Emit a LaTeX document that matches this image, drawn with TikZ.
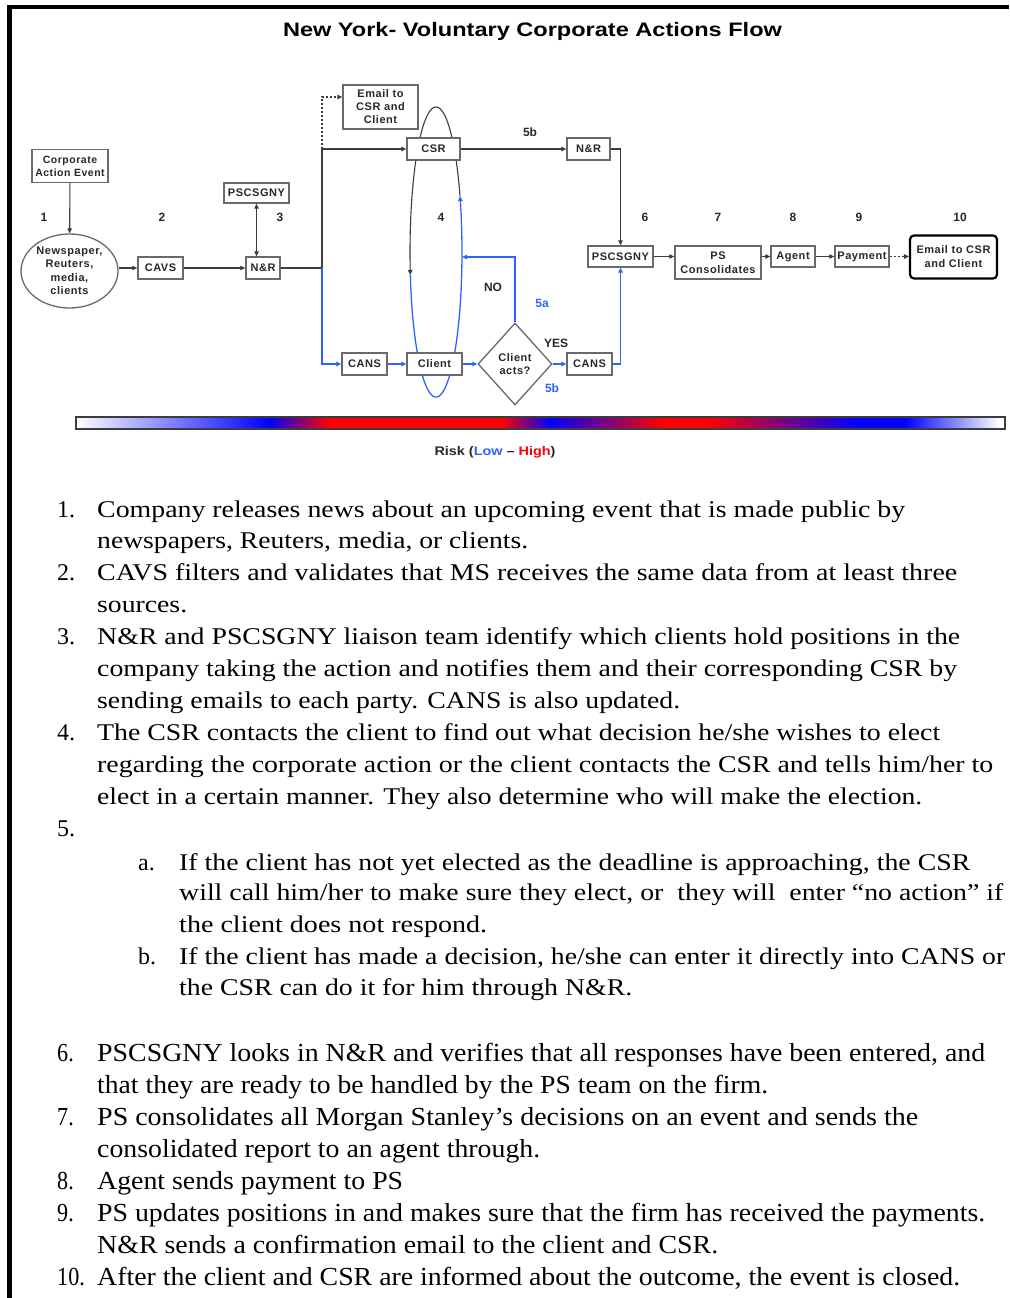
\documentclass[tikz,border=0pt]{standalone}
\usepackage{fontspec}
\usepackage{graphicx}
\setmainfont{Liberation Serif}
\newfontfamily\dfont{Liberation Sans}[LetterSpace=5]
\newfontfamily\hfont{Liberation Sans}
\usetikzlibrary{arrows.meta,shapes.geometric}
\definecolor{lblue}{RGB}{45,100,255}
\definecolor{dgray}{RGB}{60,60,60}
\definecolor{bgray}{RGB}{105,105,105}
\definecolor{tgray}{RGB}{40,40,40}
\newlength\fitlen
\newcommand\fitline[2]{\settowidth\fitlen{#2}\pgfmathsetmacro\fitscale{#1/\fitlen}\scalebox{\fitscale}[1]{#2}}
\pgfdeclarehorizontalshading{riskbar}{100bp}{color(0bp)=(white); color(25bp)=(white); color(35.4bp)=(blue); color(38.6bp)=(red); color(47.9bp)=(red); color(50.5bp)=(blue); color(56.6bp)=(red); color(59bp)=(red); color(67bp)=(blue); color(69.6bp)=(blue); color(74.7bp)=(white); color(100bp)=(white)}
\tikzset{
  box/.style={draw=bgray, line width=1.3pt, fill=white, text=tgray, inner sep=0pt, align=center,
    font=\dfont\bfseries\fontsize{11}{12.5}\selectfont},
  num/.style={text=tgray, inner sep=0pt, font=\hfont\bfseries\fontsize{12}{14}\selectfont},
  conn/.style={draw=dgray, line width=1.1pt, -{Triangle[length=5pt,width=4.5pt]}},
  bconn/.style={draw=lblue, line width=1.3pt, -{Triangle[length=5pt,width=4.5pt]}},
  ltxt/.style={anchor=base west, inner sep=0pt, font=\fontsize{24}{28}\selectfont},
  ltxtb/.style={anchor=base west, inner sep=0pt, font=\fontsize{26}{28}\selectfont},
}
\begin{document}
\begin{tikzpicture}[x=1pt,y=-1pt]
\path[use as bounding box, fill=white] (0,0) rectangle (1009,1298);
% page border
\draw[black, line width=4.5pt] (9.5,1298) -- (9.5,7) -- (1009,7);
% title
\node[font=\hfont\bfseries\fontsize{19.5}{22}\selectfont, inner sep=0pt] (title) at (532.5,31) {\fitline{499}{New York- Voluntary Corporate Actions Flow}};

% ellipse 4 (cycle between CSR and client)
\draw[dgray, line width=1.1pt, -{Triangle[length=5pt,width=4.5pt]}] plot[domain=-22.7:-189.13, samples=90] ({436+26*cos(\x)},{252+145*sin(\x)});
\draw[lblue, line width=1.3pt, -{Triangle[length=5pt,width=4.5pt]}] plot[domain=170.87:-22.7, samples=90] ({436+26*cos(\x)},{252+145*sin(\x)});

% nodes
\node[box, minimum width=76, minimum height=33, font=\dfont\bfseries\fontsize{10.5}{13}\selectfont] (corp) at (70,166) {Corporate\\Action Event};
\node[box, draw, shape=ellipse, minimum width=97, minimum height=74, font=\dfont\bfseries\fontsize{11}{13.5}\selectfont] (news) at (69.5,271) {Newspaper,\\Reuters,\\media,\\clients};
\node[box, minimum width=45, minimum height=22] (cavs) at (160.5,268) {CAVS};
\node[box, minimum width=34, minimum height=22] (nr1) at (263,268) {N\&R};
\node[box, minimum width=65, minimum height=20] (psc1) at (256.5,193) {PSCSGNY};
\node[box, minimum width=75, minimum height=44, font=\dfont\bfseries\fontsize{11}{13}\selectfont] (email1) at (380.5,107) {Email to\\CSR and\\Client};
\node[box, minimum width=53, minimum height=22] (csr) at (433.5,149) {CSR};
\node[box, minimum width=43, minimum height=22] (nr2) at (588.5,149) {N\&R};
\node[box, minimum width=65, minimum height=21] (psc2) at (620.5,256.5) {PSCSGNY};
\node[box, minimum width=86, minimum height=33, font=\dfont\bfseries\fontsize{11}{13.5}\selectfont] (pscons) at (718,262.5) {PS\\Consolidates};
\node[box, minimum width=44, minimum height=21] (agent) at (793,256.5) {Agent};
\node[box, minimum width=54, minimum height=21] (payment) at (862,256.5) {Payment};
\node[box, draw=black, line width=2.2pt, rounded corners=4pt, minimum width=87, minimum height=43, font=\dfont\bfseries\fontsize{11}{14}\selectfont] (email2) at (953.5,257) {Email to CSR\\and Client};
\node[box, minimum width=45, minimum height=22] (cans1) at (364.5,364) {CANS};
\node[box, minimum width=55, minimum height=22] (client) at (434.5,364) {Client};
\node[box, shape=diamond, minimum width=74, minimum height=82, font=\dfont\bfseries\fontsize{11}{13.5}\selectfont] (dia) at (515,364) {Client\\acts?};
\node[box, minimum width=45, minimum height=22] (cans2) at (589.5,364) {CANS};

% step numbers and labels
\node[num] (s1) at (44,217) {1};
\node[num] (s2) at (162,217) {2};
\node[num] (s3) at (280,217) {3};
\node[num] (s4) at (441,217) {4};
\node[num] (s6) at (645,217) {6};
\node[num] (s7) at (718,217) {7};
\node[num] (s8) at (793,217) {8};
\node[num] (s9) at (859,217) {9};
\node[num] (s10) at (960,217) {10};
\node[num] (l5b) at (530,132) {5b};
\node[num] (lno) at (493,287) {NO};
\node[num, text=lblue] (l5a) at (542,303) {5a};
\node[num] (lyes) at (556,343) {YES};
\node[num, text=lblue] (l5bb) at (552,388) {5b};

% junction coordinates
\coordinate (J) at (322,268);
\coordinate (J2) at (322,149);
\coordinate (D) at (322,97);
\coordinate (E4) at (462,257);

% connectors
\draw[conn] (corp) -- (news);
\draw[conn] (news.east |- cavs.west) -- (cavs.west);
\draw[conn] (cavs) -- (nr1);
\draw[conn, {Triangle[length=5pt,width=4.5pt]}-{Triangle[length=5pt,width=4.5pt]}] (psc1.south) -- (psc1.south |- nr1.north);
\draw[conn] (nr1.east) -- (J) -- (J2) -- (csr.west);
\draw[conn, dash pattern=on 2pt off 2pt] (J2) -- (D) -- (email1.west |- D);
\draw[bconn] (J) -- (J |- cans1.west) -- (cans1.west);
\draw[conn] (csr) -- (nr2);
\draw[conn] (nr2.east) -| (psc2.north);
\draw[bconn] (cans1) -- (client);
\draw[bconn] (client) -- (dia);
\draw[bconn] (dia) -- (cans2);
\draw[bconn] (cans2.east) -| (psc2.south);
\draw[bconn] (dia.north) |- (E4);
\draw[conn] (psc2.east) -- (psc2.east -| pscons.west);
\draw[conn] (pscons.east |- agent.west) -- (agent.west);
\draw[conn] (agent) -- (payment);
\draw[conn, dash pattern=on 2pt off 2pt] (payment.east) -- (payment.east -| email2.west);

% risk bar
\node[draw=dgray, line width=1.5pt, shade, shading=riskbar, minimum width=929, minimum height=12, inner sep=0pt] (bar) at (540.5,423) {};
\node[font=\hfont\bfseries\fontsize{12.5}{14}\selectfont, text=tgray, inner sep=0pt] (risk) at (495,452) {\fitline{121}{Risk (\textcolor{lblue}{Low} – \textcolor{red}{High})}};

% list block 1
\node[ltxt] (n1) at (57,517) {1.};
\node[ltxt] (t1a) at (97,517) {\fitline{808}{Company releases news about an upcoming event that is made public by}};
\node[ltxt] (t1b) at (97,548) {\fitline{431}{newspapers, Reuters, media, or clients.}};
\node[ltxt] (n2) at (57,580) {2.};
\node[ltxt] (t2a) at (97,580) {\fitline{860}{CAVS filters and validates that MS receives the same data from at least three}};
\node[ltxt] (t2b) at (97,612) {\fitline{90}{sources.}};
\node[ltxt] (n3) at (57,644) {3.};
\node[ltxt] (t3a) at (97,644) {\fitline{863}{N\&R and PSCSGNY liaison team identify which clients hold positions in the}};
\node[ltxt] (t3b) at (97,676) {\fitline{860}{company taking the action and notifies them and their corresponding CSR by}};
\node[ltxt] (t3c) at (97,708) {\fitline{583}{sending emails to each party. CANS is also updated.}};
\node[ltxt] (n4) at (57,740) {4.};
\node[ltxt] (t4a) at (97,740) {\fitline{843}{The CSR contacts the client to find out what decision he/she wishes to elect}};
\node[ltxt] (t4b) at (97,772) {\fitline{896}{regarding the corporate action or the client contacts the CSR and tells him/her to}};
\node[ltxt] (t4c) at (97,804) {\fitline{825}{elect in a certain manner. They also determine who will make the election.}};
\node[ltxt] (n5) at (57,836) {5.};
\node[ltxt] (na) at (138,870) {a.};
\node[ltxt] (ta1) at (179,870) {\fitline{791}{If the client has not yet elected as the deadline is approaching, the CSR}};
\node[ltxt] (ta2) at (179,900) {\fitline{824}{will call him/her to make sure they elect, or\ \ they will\ \ enter “no action” if}};
\node[ltxt] (ta3) at (179,932) {\fitline{308}{the client does not respond.}};
\node[ltxt] (nb) at (138,964) {b.};
\node[ltxt] (tb1) at (179,964) {\fitline{826}{If the client has made a decision, he/she can enter it directly into CANS or}};
\node[ltxt] (tb2) at (179,995) {\fitline{453}{the CSR can do it for him through N\&R.}};

% list block 2
\node[ltxtb] (n6) at (57,1061) {\scalebox{0.85}[1]{6.}};
\node[ltxtb] (t6a) at (97,1061) {\fitline{888}{PSCSGNY looks in N\&R and verifies that all responses have been entered, and}};
\node[ltxtb] (t6b) at (97,1093) {\fitline{671}{that they are ready to be handled by the PS team on the firm.}};
\node[ltxtb] (n7) at (57,1125) {\scalebox{0.85}[1]{7.}};
\node[ltxtb] (t7a) at (97,1125) {\fitline{821}{PS consolidates all Morgan Stanley’s decisions on an event and sends the}};
\node[ltxtb] (t7b) at (97,1157) {\fitline{443}{consolidated report to an agent through.}};
\node[ltxtb] (n8) at (57,1189) {\scalebox{0.85}[1]{8.}};
\node[ltxtb] (t8) at (97,1189) {\fitline{306}{Agent sends payment to PS}};
\node[ltxtb] (n9) at (57,1221) {\scalebox{0.85}[1]{9.}};
\node[ltxtb] (t9a) at (97,1221) {\fitline{888}{PS updates positions in and makes sure that the firm has received the payments.}};
\node[ltxtb] (t9b) at (97,1253) {\fitline{621}{N\&R sends a confirmation email to the client and CSR.}};
\node[ltxtb] (n10) at (57,1285) {\scalebox{0.85}[1]{10.}};
\node[ltxtb] (t10) at (97,1285) {\fitline{863}{After the client and CSR are informed about the outcome, the event is closed.}};
\end{tikzpicture}
\end{document}
